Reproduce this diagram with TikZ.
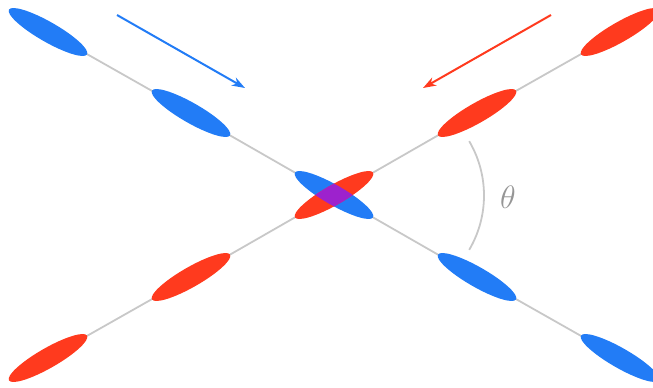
\documentclass[tikz,border=0pt]{standalone}
\usetikzlibrary{shapes.geometric,arrows.meta,backgrounds}
\definecolor{eblue}{RGB}{34,124,246}
\definecolor{ered}{RGB}{255,58,30}
\definecolor{epurple}{RGB}{157,34,205}
\definecolor{lgray}{RGB}{200,200,200}
\definecolor{tgray}{RGB}{150,150,150}
\tikzset{
  bell/.style={ellipse, inner sep=0pt, minimum width=90pt, minimum height=20pt, fill=eblue, rotate=-29.8},
  rell/.style={ellipse, inner sep=0pt, minimum width=90pt, minimum height=20pt, fill=ered, rotate=29.8},
  axis line/.style={draw=lgray, line width=1.8pt},
  barrow/.style={draw=eblue, line width=2pt, -{Stealth[length=13pt,width=9pt,inset=4pt]}},
  rarrow/.style={draw=ered, line width=2pt, -{Stealth[length=13pt,width=9pt,inset=4pt]}},
}
\begin{document}
\begin{tikzpicture}[x=1pt,y=-1pt]
\useasboundingbox (0,0) rectangle (653,388);
% blue chain
\node[bell] (b1) at (48,32) {};
\node[bell] (b2) at (191,113) {};
\node[bell] (b4) at (477,277) {};
\node[bell] (b5) at (620,358) {};
% red chain
\node[rell] (r1) at (48,358) {};
\node[rell] (r2) at (191,277) {};
\node[rell] (r4) at (477,113) {};
\node[rell] (r5) at (620,32) {};
% centre
\node[bell] (b3) at (334,195) {};
\node[rell] (r3) at (334,195) {};
\begin{scope}
  \clip[rotate around={29.8:(334,195)}] (334,195) ellipse [x radius=45, y radius=10];
  \fill[epurple, rotate around={-29.8:(334,195)}] (334,195) ellipse [x radius=45, y radius=10];
\end{scope}
\begin{scope}[on background layer]
  \draw[axis line] (b1.center) -- (b2.center) -- (b3.center) -- (b4.center) -- (b5.center);
  \draw[axis line] (r1.center) -- (r2.center) -- (r3.center) -- (r4.center) -- (r5.center);
\end{scope}
% arrows
\coordinate (ba) at (117,15);
\coordinate (bb) at (245,88);
\coordinate (ra) at (551,15);
\coordinate (rb) at (423,88);
\draw[barrow] (ba) -- (bb);
\draw[rarrow] (ra) -- (rb);
% angle
\draw[lgray, line width=1.8pt, domain=-30.5:30.5, samples=40, smooth] plot ({377+107*cos(\x)}, {195.5+107*sin(\x)});
\node[text=tgray, font=\fontsize{24.88}{26}\selectfont, inner sep=0pt, scale=1.3] (th) at (508,197) {$\theta$};
\end{tikzpicture}
\end{document}
